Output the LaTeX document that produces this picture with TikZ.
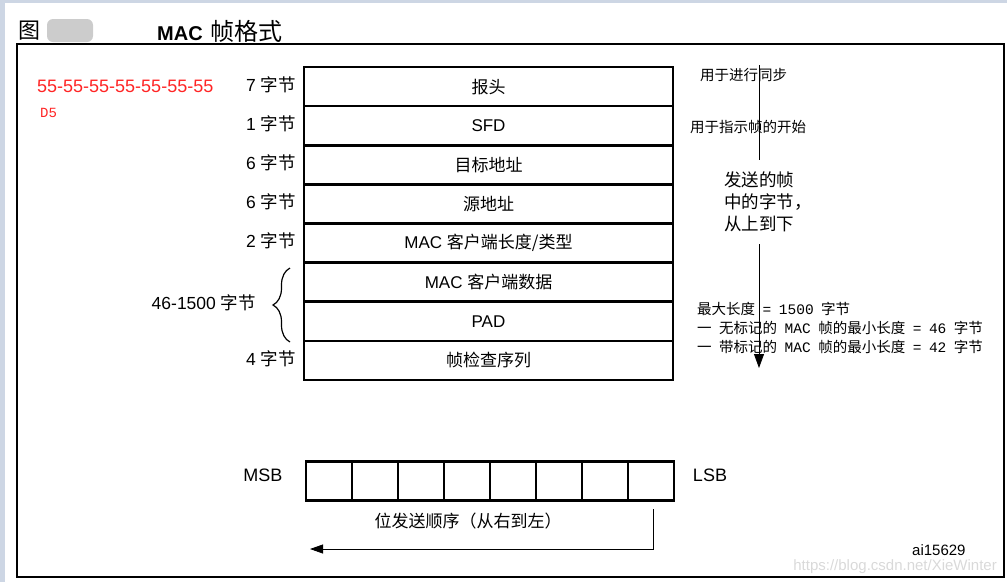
\documentclass[tikz,border=0pt]{standalone}
\usepackage{fontspec}
\setmainfont{Liberation Sans}
\setmonofont{Liberation Mono}
\newfontfamily\cjk{Noto Sans CJK SC}
\newcommand\zh[1]{{\cjk #1}}
\newcommand\notegap{\hspace{7.5pt}}
\usetikzlibrary{arrows.meta,decorations.pathreplacing}
\definecolor{stripblue}{HTML}{CDD6E4}
\definecolor{preamred}{HTML}{FF2424}
\tikzset{
  field/.style={draw,line width=2.6pt,minimum width=369pt,minimum height=39.1pt,inner sep=0pt,font=\fontsize{17}{20}\selectfont},
  bytelen/.style={anchor=east,inner sep=0pt,font=\fontsize{17.5}{20}\selectfont},
  bitcell/.style={draw,line width=2.6pt,minimum width=46pt,minimum height=39pt,inner sep=0pt},
  note/.style={anchor=west,inner sep=0pt,font=\fontsize{14.5}{17}\selectfont}
}
\begin{document}
\begin{tikzpicture}[x=1pt,y=-1pt]
\useasboundingbox (0,0) rectangle (1007,582);
\fill[stripblue] (0,0) rectangle (1007,3);
\fill[stripblue] (0,0) rectangle (5,582);
\draw[line width=1.2pt] (17,44) rectangle (1004,577);
\node[inner sep=0pt,font=\fontsize{22}{24}\selectfont] (figlabel) at (29,31) {\zh{图}};
\fill[gray!40,rounded corners=6pt] (47,19) rectangle (93,42);
\node[anchor=west,inner sep=0pt,font=\fontsize{20}{24}\selectfont] (title) at (157,31) {\textbf{MAC}\hspace{8pt}{\cjk\fontsize{24}{26}\selectfont 帧格式}};
\pgfmathsetmacro{\rowh}{39.125}
\foreach \i/\txt/\len in {1/{\zh{报头}}/{7 \zh{字节}}, 2/SFD/{1 \zh{字节}}, 3/{\zh{目标地址}}/{6 \zh{字节}}, 4/{\zh{源地址}}/{6 \zh{字节}}, 5/{MAC \zh{客户端长度/类型}}/{2 \zh{字节}}, 6/{MAC \zh{客户端数据}}/{}, 7/PAD/{}, 8/{\zh{帧检查序列}}/{4 \zh{字节}}}{
  \node[field] (r\i) at (488.5,{67+\rowh*(\i-0.5)}) {\txt};
  \node[bytelen] (len\i) at (296,{67+\rowh*(\i-0.5)-2}) {\len};
}
\node[bytelen] (datalen) at (256,303) {46-1500 \zh{字节}};
\draw[line width=1.2pt,decorate,decoration={brace,amplitude=17pt}] (290,342) -- (290,268);
\node[anchor=west,inner sep=0pt,text=preamred,font=\fontsize{18}{20}\selectfont] (preamble) at (37,86) {55-55-55-55-55-55-55};
\node[anchor=west,inner sep=0pt,text=preamred,font=\ttfamily\fontsize{14}{15}\selectfont] (sfdval) at (40,113) {D5};
\node[note] (syncnote) at (700,75) {\zh{用于进行同步}};
\node[note] (startnote) at (690,127) {\zh{用于指示帧的开始}};
\node[anchor=west,align=left,inner xsep=0pt,inner ysep=12pt,font=\fontsize{17.5}{22}\selectfont] (sendnote) at (724,202) {\zh{发送的帧}\\\zh{中的字节，}\\\zh{从上到下}};
\node[note] (maxnote) at (697,309) {\zh{最大长度}\notegap\texttt{=}\notegap\texttt{1500}\notegap\zh{字节}};
\node[note] (untagnote) at (697,328) {\zh{一}\notegap\zh{无标记的}\notegap\texttt{MAC}\notegap\zh{帧的最小长度}\notegap\texttt{=}\notegap\texttt{46}\notegap\zh{字节}};
\node[note] (tagnote) at (697,347) {\zh{一}\notegap\zh{带标记的}\notegap\texttt{MAC}\notegap\zh{帧的最小长度}\notegap\texttt{=}\notegap\texttt{42}\notegap\zh{字节}};
\coordinate (flowtop) at (759,65);
\coordinate (flowend) at (759,368);
\draw[line width=0.8pt] (flowtop) -- (flowtop |- sendnote.north);
\draw[line width=0.8pt,-{Triangle[length=14pt,width=10pt]}] (flowtop |- sendnote.south) -- (flowend);
\foreach \i in {1,...,8}
  \node[bitcell] (b\i) at ({306+46*(\i-0.5)},481) {};
\node[inner sep=0pt,font=\fontsize{18}{20}\selectfont] (msb) at (263,475) {MSB};
\node[inner sep=0pt,font=\fontsize{18}{20}\selectfont] (lsb) at (710,475) {LSB};
\node[inner sep=0pt,font=\fontsize{17}{20}\selectfont] (bitorder) at (468,521) {\zh{位发送顺序（从右到左）}};
\coordinate (bitstart) at (653,509);
\coordinate (bitend) at (310,549);
\draw[line width=0.8pt,-{Triangle[length=13pt,width=9pt]}] (bitstart) |- (bitend);
\node[anchor=west,inner sep=0pt,font=\fontsize{15}{17}\selectfont] (figid) at (912,550) {ai15629};
\node[anchor=east,inner sep=0pt,text=black!15,font=\fontsize{15}{17}\selectfont] (watermark) at (997,567) {https://blog.csdn.net/XieWinter};
\end{tikzpicture}
\end{document}
